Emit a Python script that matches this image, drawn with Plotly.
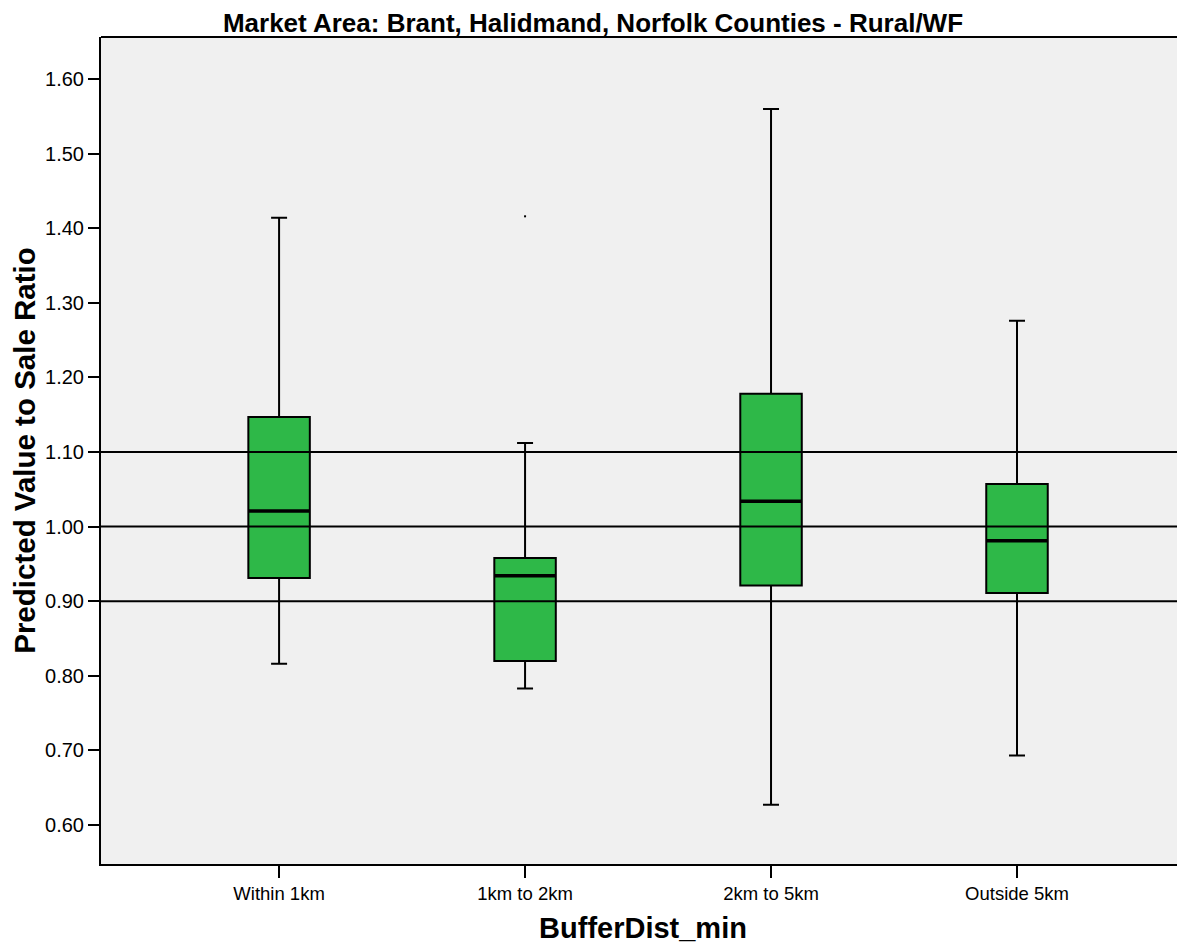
import plotly.graph_objects as go

categories = ["Within 1km", "1km to 2km", "2km to 5km", "Outside 5km"]
lower_whisker = [0.816, 0.783, 0.627, 0.693]
q1_vals = [0.931, 0.820, 0.921, 0.911]
median_vals = [1.021, 0.934, 1.034, 0.981]
q3_vals = [1.147, 0.958, 1.178, 1.057]
upper_whisker = [1.414, 1.112, 1.560, 1.276]
outlier_cat = [1]
outlier_vals = [1.416]
ref_lines = [0.90, 1.00, 1.10]
y_ticks = [0.60, 0.70, 0.80, 0.90, 1.00, 1.10, 1.20, 1.30, 1.40, 1.50, 1.60]

FONT = "Liberation Sans, Arial, sans-serif"
GREEN = "rgb(46,184,72)"
BOX_W = 0.25

xpos = list(range(len(categories)))

fig = go.Figure()
fig.add_trace(go.Box(
    x=xpos,
    q1=q1_vals, median=median_vals, q3=q3_vals,
    lowerfence=lower_whisker, upperfence=upper_whisker,
    width=BOX_W, whiskerwidth=0.26,
    fillcolor=GREEN,
    line=dict(color="black", width=2),
    boxpoints=False,
    showlegend=False,
    hoverinfo="skip",
))

# thicker median lines
mx, my = [], []
for i, m in zip(xpos, median_vals):
    mx += [i - BOX_W / 2, i + BOX_W / 2, None]
    my += [m, m, None]
fig.add_trace(go.Scatter(x=mx, y=my, mode="lines",
                         line=dict(color="black", width=3.5),
                         showlegend=False, hoverinfo="skip"))

# outlier marker
fig.add_trace(go.Scatter(x=outlier_cat, y=outlier_vals, mode="markers",
                         marker=dict(color="black", size=2, symbol="square"),
                         showlegend=False, hoverinfo="skip"))

for r in ref_lines:
    fig.add_shape(type="line", xref="paper", x0=0, x1=1, yref="y", y0=r, y1=r,
                  line=dict(color="black", width=2), layer="above")

# top border
fig.add_shape(type="line", xref="paper", x0=0, x1=1, yref="paper", y0=1, y1=1,
              line=dict(color="black", width=2), layer="above")

fig.update_layout(
    width=1177, height=939,
    margin=dict(l=93, r=0, t=29, b=83),
    paper_bgcolor="white",
    plot_bgcolor="rgb(240,240,240)",
    font=dict(family=FONT, color="black"),
    title=dict(text="<b>Market Area: Brant, Halidmand, Norfolk Counties - Rural/WF</b>",
               x=0.497, xanchor="center", xref="container", y=0.9845, yanchor="middle",
               font=dict(size=26, family=FONT, color="black")),
    xaxis=dict(
        range=[-0.724, 3.683],
        tickmode="array", tickvals=xpos, ticktext=categories,
        ticks="outside", ticklen=12, tickwidth=2, tickcolor="black",
        showline=True, linecolor="black", linewidth=2,
        showgrid=False, zeroline=False,
        tickfont=dict(size=18.5, family=FONT),
        title=dict(text="<b>BufferDist_min</b>", font=dict(size=29, family=FONT), standoff=14),
    ),
    yaxis=dict(
        range=[0.5477, 1.6564],
        tickmode="array", tickvals=y_ticks,
        ticktext=[f"{v:.2f}" for v in y_ticks],
        ticks="outside", ticklen=11, tickwidth=2, tickcolor="black",
        showline=True, linecolor="black", linewidth=2,
        showgrid=False, zeroline=False,
        tickfont=dict(size=20, family=FONT),
        title=dict(text="<b>Predicted Value to Sale Ratio</b>", font=dict(size=29.5, family=FONT), standoff=12),
    ),
)

fig.write_html("out.html")
